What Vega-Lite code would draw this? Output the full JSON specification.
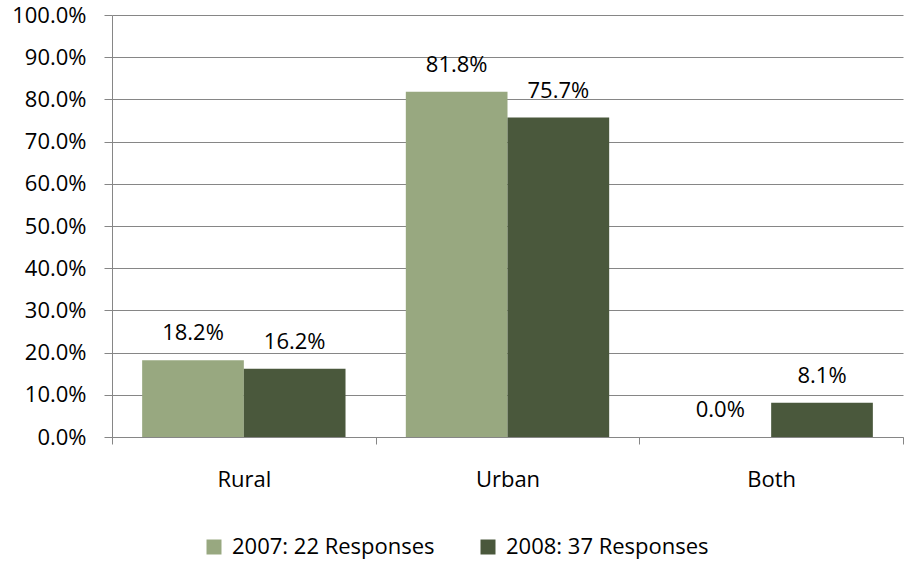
{
  "$schema": "https://vega.github.io/schema/vega-lite/v6.json",
  "width": 791,
  "height": 422,
  "autosize": "none",
  "padding": {"left": 112, "top": 15, "right": 2, "bottom": 125},
  "background": "white",
  "config": {
    "view": {"stroke": null},
    "font": "Open Sans",
    "axis": {"labelFont": "Open Sans", "labelFontSize": 22, "labelColor": "#000000"}
  },
  "data": {
    "values": [
      {"area": "Rural", "series": "2007: 22 Responses", "value": 0.182},
      {"area": "Rural", "series": "2008: 37 Responses", "value": 0.162},
      {"area": "Urban", "series": "2007: 22 Responses", "value": 0.818},
      {"area": "Urban", "series": "2008: 37 Responses", "value": 0.757},
      {"area": "Both", "series": "2007: 22 Responses", "value": 0.0},
      {"area": "Both", "series": "2008: 37 Responses", "value": 0.081}
    ]
  },
  "encoding": {
    "x": {
      "field": "area", "type": "nominal", "sort": ["Rural", "Urban", "Both"],
      "scale": {"paddingInner": 0, "paddingOuter": 0},
      "axis": {"title": null, "labelAngle": 0, "domainColor": "#868686", "tickColor": "#868686", "tickSize": 7, "tickBand": "extent", "labelPadding": 35, "labelBaseline": "middle", "labelFontSize": 22}
    },
    "xOffset": {"field": "series", "type": "nominal", "scale": {"paddingInner": 0, "paddingOuter": 0.2965}},
    "y": {
      "field": "value", "type": "quantitative",
      "scale": {"domain": [0, 1], "nice": false},
      "axis": {"title": null, "format": ".1%", "values": [0,0.1,0.2,0.3,0.4,0.5,0.6,0.7,0.8,0.9,1.0], "labelOverlap": false, "grid": true, "gridColor": "#868686", "domainColor": "#868686", "tickColor": "#868686", "tickSize": 8, "labelPadding": 18}
    }
  },
  "layer": [
    {
      "mark": {"type": "bar"},
      "encoding": {
        "color": {
          "field": "series", "type": "nominal",
          "scale": {"range": ["#98A880", "#4A583C"]},
          "legend": {"title": null, "orient": "none", "direction": "horizontal", "legendX": 91, "legendY": 521, "symbolType": "square", "symbolSize": 225, "symbolStrokeWidth": 0, "labelFontSize": 22, "labelFont": "Open Sans", "labelColor": "#000000", "labelLimit": 0, "columnPadding": 42, "labelOffset": 7}
        }
      }
    },
    {
      "mark": {"type": "text", "baseline": "middle", "dy": -27, "fontSize": 22, "font": "Open Sans", "color": "#000000"},
      "encoding": {
        "text": {"field": "value", "type": "quantitative", "format": ".1%"}
      }
    }
  ]
}
